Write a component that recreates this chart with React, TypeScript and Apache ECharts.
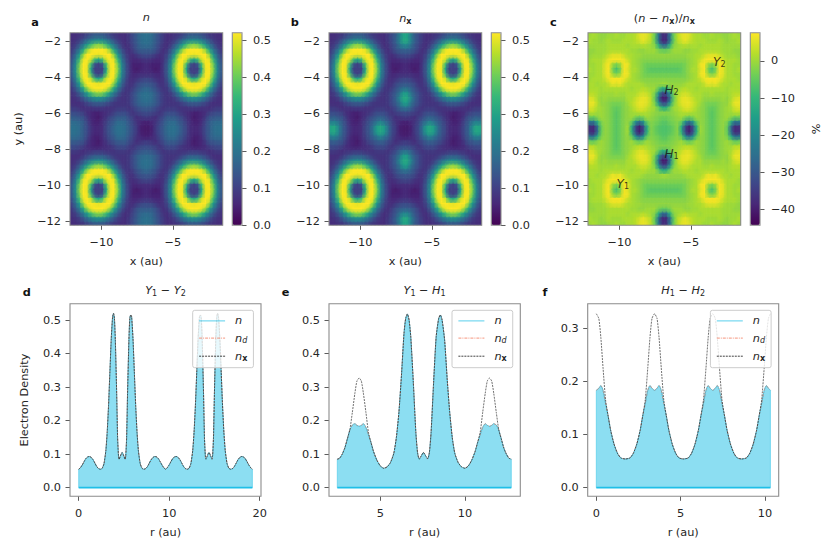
import * as echarts from "echarts";
import { useEffect, useRef } from "react";

const viridis = ["#440154", "#482878", "#3e4989", "#31688e", "#26828e", "#1f9e89", "#35b779", "#6ece58", "#b5de2b", "#fde725"];

// density maps, one quarter of the lattice, upper triangle (x 100). the other cells are mirror images
const nTri = [
  [7, 7, 8, 9, 11, 13, 15, 15, 15, 13, 11, 9, 8, 7, 7, 9, 12, 15, 18, 19],
  [8, 10, 14, 18, 22, 25, 26, 25, 22, 18, 14, 10, 8, 7, 9, 12, 15, 18, 19],
  [15, 21, 28, 36, 41, 43, 41, 36, 28, 21, 15, 10, 7, 8, 11, 14, 17, 18],
  [31, 43, 50, 52, 52, 52, 50, 43, 31, 21, 14, 9, 7, 10, 13, 15, 15],
  [52, 52, 51, 50, 51, 52, 52, 43, 28, 18, 11, 8, 7, 9, 11, 12],
  [48, 36, 30, 36, 48, 52, 50, 36, 22, 13, 8, 6, 6, 7, 8],
  [14, 10, 14, 36, 51, 52, 41, 25, 15, 9, 5, 5, 5, 6],
  [10, 10, 30, 50, 52, 43, 26, 15, 9, 5, 4, 5, 6],
  [14, 36, 51, 52, 41, 25, 15, 9, 6, 6, 7, 7],
  [48, 52, 50, 36, 22, 13, 8, 7, 8, 10, 11],
  [52, 43, 28, 18, 11, 8, 8, 11, 13, 14],
  [31, 21, 14, 9, 8, 10, 13, 15, 17],
  [15, 10, 8, 9, 12, 15, 18, 19],
  [8, 8, 9, 12, 15, 18, 19],
  [8, 9, 12, 15, 17, 18],
  [8, 10, 12, 14, 15],
  [8, 10, 11, 12],
  [7, 8, 9],
  [6, 5],
  [4],
];
const nxTri = [
  [7, 7, 8, 9, 11, 13, 15, 15, 15, 13, 11, 9, 8, 7, 7, 9, 12, 15, 22, 30],
  [8, 10, 14, 18, 22, 25, 26, 25, 22, 18, 14, 10, 8, 7, 9, 12, 16, 23, 31],
  [15, 21, 28, 36, 41, 43, 41, 36, 28, 21, 15, 10, 7, 8, 11, 14, 19, 24],
  [31, 43, 50, 52, 52, 52, 50, 43, 31, 21, 14, 9, 7, 10, 13, 15, 16],
  [52, 52, 51, 50, 51, 52, 52, 43, 28, 18, 11, 8, 7, 9, 11, 12],
  [48, 36, 30, 36, 48, 52, 50, 36, 22, 13, 8, 6, 6, 7, 8],
  [14, 10, 14, 36, 51, 52, 41, 25, 15, 9, 5, 5, 5, 6],
  [10, 10, 30, 50, 52, 43, 26, 15, 9, 5, 4, 5, 6],
  [14, 36, 51, 52, 41, 25, 15, 9, 6, 6, 7, 7],
  [48, 52, 50, 36, 22, 13, 8, 7, 8, 10, 11],
  [52, 43, 28, 18, 11, 8, 8, 11, 13, 14],
  [31, 21, 14, 9, 8, 10, 13, 16, 19],
  [15, 10, 8, 9, 12, 15, 20, 28],
  [8, 8, 9, 12, 16, 24, 31],
  [8, 9, 12, 15, 20, 28],
  [8, 10, 12, 16, 19],
  [8, 10, 11, 12],
  [7, 8, 9],
  [6, 5],
  [4],
];
// percent
const diffTri = [
  [0, 1, 0, -1, -1, 0, 0, 1, 0, 0, 1, 1, 2, 5, 6, 5, 2, -4, -24, -37],
  [0, 0, -1, 0, 1, 0, 0, 0, 1, 1, 1, 2, 4, 6, 4, 2, -5, -25, -38],
  [0, 0, 0, 1, 1, 1, 1, 1, 0, 1, 1, 1, 2, 1, 0, -2, -12, -26],
  [0, 0, 1, 1, 1, 1, 1, 1, 0, 0, -1, -1, 0, 0, 0, -3, -5],
  [1, 3, 5, 5, 5, 3, 1, 1, 0, 0, -1, -1, -1, -1, -1, -1],
  [6, 7, 7, 7, 6, 3, 1, 0, -1, -2, -2, -2, -2, -2, -2],
  [0, -3, 0, 7, 6, 1, 0, -1, -3, -4, -4, -4, -4, -4],
  [-8, -3, 7, 5, 1, 1, -1, -3, -5, -6, -6, -6, -6],
  [0, 7, 6, 1, 0, -1, -3, -4, -4, -4, -4, -4],
  [6, 3, 1, 0, -1, -2, -2, -2, -2, -2, -2],
  [1, 1, 1, 1, 0, -1, -1, -1, -1, 0],
  [0, 1, 1, 2, 1, 0, 0, -5, -12],
  [1, 3, 4, 3, 1, -3, -18, -32],
  [5, 6, 5, 2, -5, -26, -40],
  [6, 5, 2, -3, -18, -32],
  [3, 1, 0, -5, -12],
  [0, -1, -2, -2],
  [-2, -3, -4],
  [-4, -6],
  [-7],
];

const mapTicksX = [-10, -5];
const mapTicksY = [-12, -10, -8, -6, -4, -2];
const densityTicks = [0, 0.1, 0.2, 0.3, 0.4, 0.5];
const percentTicks = [-40, -30, -20, -10, 0];

const siteNames = ["Y1", "Y2", "H1", "H2"];
const siteX = [-10.16, -3.4, -6.8, -6.8];
const siteY = [-10.24, -3.46, -8.58, -5.03];

// line cuts
const rD = [0, 0.2, 0.4, 0.6, 0.8, 1, 1.2, 1.4, 1.6, 1.8, 2, 2.2, 2.4, 2.6, 2.8, 3, 3.15, 3.3, 3.45, 3.6, 3.75, 3.85, 3.95, 4.05, 4.2, 4.3, 4.4, 4.47, 4.6, 4.8, 5, 5.13, 5.2, 5.3, 5.4, 5.55, 5.65, 5.75, 5.85, 6, 6.15, 6.3, 6.45, 6.6, 6.8, 7, 7.2, 7.4, 7.6, 7.8, 8, 8.2, 8.4, 8.6, 8.8, 9, 9.2, 9.4, 9.6, 9.8, 10, 10.2, 10.4, 10.6, 10.8, 11, 11.2, 11.4, 11.6, 11.8, 12, 12.2, 12.4, 12.6, 12.75, 12.9, 13.05, 13.2, 13.35, 13.45, 13.55, 13.65, 13.8, 13.9, 14, 14.07, 14.2, 14.4, 14.6, 14.73, 14.8, 14.9, 15, 15.15, 15.25, 15.35, 15.45, 15.6, 15.75, 15.9, 16.05, 16.2, 16.4, 16.6, 16.8, 17, 17.2, 17.4, 17.6, 17.8, 18, 18.2, 18.4, 18.6, 18.8, 19, 19.2];
const nD = [0.055, 0.06, 0.068, 0.078, 0.087, 0.092, 0.093, 0.09, 0.083, 0.073, 0.063, 0.057, 0.055, 0.058, 0.072, 0.11, 0.165, 0.245, 0.345, 0.445, 0.51, 0.52, 0.505, 0.44, 0.28, 0.15, 0.095, 0.085, 0.094, 0.105, 0.094, 0.085, 0.095, 0.15, 0.28, 0.44, 0.505, 0.515, 0.51, 0.445, 0.345, 0.245, 0.165, 0.11, 0.072, 0.058, 0.055, 0.057, 0.063, 0.073, 0.083, 0.09, 0.093, 0.092, 0.087, 0.078, 0.068, 0.06, 0.055, 0.06, 0.068, 0.078, 0.087, 0.092, 0.093, 0.09, 0.083, 0.073, 0.063, 0.057, 0.055, 0.058, 0.072, 0.11, 0.165, 0.245, 0.345, 0.445, 0.51, 0.515, 0.505, 0.44, 0.28, 0.15, 0.095, 0.085, 0.094, 0.105, 0.094, 0.085, 0.095, 0.15, 0.28, 0.44, 0.505, 0.52, 0.51, 0.445, 0.345, 0.245, 0.165, 0.11, 0.072, 0.058, 0.055, 0.057, 0.063, 0.073, 0.083, 0.09, 0.093, 0.092, 0.087, 0.078, 0.068, 0.06, 0.055];

const rE = [2.46, 2.6, 2.75, 2.9, 3.05, 3.2, 3.35, 3.5, 3.62, 3.75, 3.88, 4, 4.15, 4.3, 4.45, 4.6, 4.8, 5, 5.2, 5.4, 5.6, 5.8, 5.95, 6.1, 6.25, 6.4, 6.5, 6.6, 6.7, 6.8, 6.95, 7.1, 7.2, 7.3, 7.42, 7.55, 7.68, 7.8, 7.9, 8, 8.15, 8.3, 8.45, 8.55, 8.65, 8.8, 8.95, 9.1, 9.25, 9.4, 9.6, 9.8, 10, 10.2, 10.4, 10.6, 10.75, 10.9, 11.05, 11.2, 11.32, 11.45, 11.58, 11.7, 11.85, 12, 12.15, 12.3, 12.45, 12.6, 12.74];
const nE = [0.085, 0.088, 0.1, 0.118, 0.145, 0.172, 0.187, 0.191, 0.186, 0.183, 0.186, 0.191, 0.18, 0.158, 0.135, 0.108, 0.082, 0.065, 0.058, 0.062, 0.075, 0.103, 0.15, 0.225, 0.335, 0.46, 0.505, 0.518, 0.5, 0.45, 0.315, 0.165, 0.105, 0.085, 0.095, 0.105, 0.095, 0.086, 0.105, 0.165, 0.315, 0.45, 0.505, 0.515, 0.5, 0.44, 0.325, 0.225, 0.15, 0.103, 0.075, 0.062, 0.058, 0.065, 0.082, 0.108, 0.135, 0.158, 0.18, 0.191, 0.186, 0.183, 0.186, 0.191, 0.187, 0.172, 0.145, 0.118, 0.1, 0.088, 0.085];
const nxE = [0.085, 0.088, 0.1, 0.118, 0.145, 0.172, 0.225, 0.282, 0.318, 0.327, 0.318, 0.282, 0.225, 0.165, 0.135, 0.108, 0.082, 0.065, 0.058, 0.062, 0.075, 0.103, 0.15, 0.225, 0.335, 0.46, 0.505, 0.518, 0.5, 0.45, 0.315, 0.165, 0.105, 0.085, 0.095, 0.105, 0.095, 0.086, 0.105, 0.165, 0.315, 0.45, 0.505, 0.515, 0.5, 0.44, 0.325, 0.225, 0.15, 0.103, 0.075, 0.062, 0.058, 0.065, 0.082, 0.108, 0.135, 0.165, 0.225, 0.282, 0.318, 0.327, 0.318, 0.282, 0.225, 0.172, 0.145, 0.118, 0.1, 0.088, 0.085];

const rF = [0, 0.15, 0.27, 0.4, 0.55, 0.7, 0.85, 1.05, 1.25, 1.45, 1.72, 2, 2.2, 2.4, 2.6, 2.75, 2.9, 3.05, 3.18, 3.3, 3.45, 3.6, 3.72, 3.85, 4, 4.15, 4.3, 4.5, 4.7, 4.9, 5.17, 5.45, 5.65, 5.85, 6.05, 6.2, 6.35, 6.5, 6.63, 6.75, 6.9, 7.05, 7.17, 7.3, 7.45, 7.6, 7.75, 7.95, 8.15, 8.35, 8.62, 8.9, 9.1, 9.3, 9.5, 9.65, 9.8, 9.95, 10.08, 10.2, 10.32];
const nF = [0.183, 0.187, 0.192, 0.183, 0.158, 0.135, 0.108, 0.082, 0.065, 0.056, 0.054, 0.056, 0.065, 0.082, 0.108, 0.135, 0.158, 0.183, 0.192, 0.187, 0.183, 0.187, 0.192, 0.183, 0.158, 0.135, 0.108, 0.082, 0.065, 0.056, 0.054, 0.056, 0.065, 0.082, 0.108, 0.135, 0.158, 0.183, 0.192, 0.187, 0.183, 0.187, 0.192, 0.183, 0.158, 0.135, 0.108, 0.082, 0.065, 0.056, 0.054, 0.056, 0.065, 0.082, 0.108, 0.135, 0.158, 0.183, 0.192, 0.187, 0.183];
const nxF = [0.327, 0.318, 0.282, 0.225, 0.165, 0.135, 0.108, 0.082, 0.065, 0.056, 0.054, 0.056, 0.065, 0.082, 0.108, 0.135, 0.165, 0.225, 0.282, 0.318, 0.327, 0.318, 0.282, 0.225, 0.165, 0.135, 0.108, 0.082, 0.065, 0.056, 0.054, 0.056, 0.065, 0.082, 0.108, 0.135, 0.165, 0.225, 0.282, 0.318, 0.327, 0.318, 0.282, 0.225, 0.165, 0.135, 0.108, 0.082, 0.065, 0.056, 0.054, 0.056, 0.065, 0.082, 0.108, 0.135, 0.165, 0.225, 0.282, 0.318, 0.327];

const FONT = "DejaVu Sans";
const INK = "#262626";
const SPINE = "#8c8c8c";
const FS = 11.3;
const MAP_MIN = -12.2;
const MAP_MAX = -1.5;
const CELLS = 40;
const CELL = (MAP_MAX - MAP_MIN) / CELLS;

const subBase = { fontFamily: FONT, fontSize: 8, color: INK, verticalAlign: "bottom", padding: [5, 0, 0, 0] };
const rich = {
  i: { fontFamily: FONT, fontStyle: "italic", fontSize: FS, color: INK },
  t: { fontFamily: FONT, fontSize: FS, color: INK },
  sub: { ...subBase, fontStyle: "italic" },
  num: subBase,
  bx: { ...subBase, fontWeight: "bold" },
};

const mapBoxes = [
  { left: 70, top: 32.7, width: 152.7, height: 192.6 },
  { left: 329, top: 32.7, width: 152.7, height: 192.6 },
  { left: 588, top: 32.7, width: 152.7, height: 192.6 },
];
const barBoxes = [
  { left: 232.3, top: 32.7, width: 9.7, height: 192.6 },
  { left: 491.3, top: 32.7, width: 9.7, height: 192.6 },
  { left: 750.3, top: 32.7, width: 9.7, height: 192.6 },
];
const lineBoxes = [
  { left: 70, top: 303.7, width: 191, height: 192.6 },
  { left: 329, top: 303.7, width: 191.3, height: 192.6 },
  { left: 587.7, top: 303.7, width: 191, height: 192.6 },
];

const minusText = (v: number) => String(v).replace("-", "\u2212");
const oneDecimal = (v: number) => v.toFixed(1);

// unfold the triangle into the whole map
function unfold(tri: number[][], scale: number) {
  const out: number[][] = [];
  for (let row = 0; row < CELLS; row++) {
    for (let col = 0; col < CELLS; col++) {
      const a = row < CELLS / 2 ? row : CELLS - 1 - row;
      const b = col < CELLS / 2 ? col : CELLS - 1 - col;
      const lo = Math.min(a, b);
      const hi = Math.max(a, b);
      out.push([MAP_MIN + (col + 0.5) * CELL, MAP_MIN + (row + 0.5) * CELL, tri[lo][hi - lo] * scale]);
    }
  }
  return out;
}

const cellShape = (api: any, half: number, pad: number) => {
  const x = api.value(0);
  const y = api.value(1);
  const p0 = api.coord([x - half, y + half]);
  const p1 = api.coord([x + half, y - half]);
  return { x: p0[0], y: p0[1], width: p1[0] - p0[0] + pad, height: p1[1] - p0[1] + pad };
};

const renderCell = (_: any, api: any) => ({
  type: "rect",
  shape: cellShape(api, CELL / 2, 0.5),
  style: { fill: api.visual("color") },
});

// wider see-through copy of each cell, softens the mosaic
const renderSoftCell = (_: any, api: any) => ({
  type: "rect",
  shape: cellShape(api, CELL * 0.85, 0),
  style: { fill: api.visual("color"), opacity: 0.38 },
});

const zip = (xs: number[], ys: number[]) => xs.map((x, k) => [x, ys[k]]);

function axisBase(ticks: number[], min: number, max: number, fmt: (v: number) => string, margin: number) {
  return {
    type: "value",
    min,
    max,
    splitLine: { show: false },
    axisLine: { show: false, onZero: false },
    axisTick: { show: true, length: 4.5, customValues: ticks, lineStyle: { color: "#4a4a4a", width: 0.9 } },
    axisLabel: { show: true, customValues: ticks, formatter: fmt, color: INK, fontFamily: FONT, fontSize: FS, margin },
    nameLocation: "middle",
    nameTextStyle: { color: INK, fontFamily: FONT, fontSize: FS },
  };
}

const panelLetters = [
  { text: "a", x: 35, y: 23.5 },
  { text: "b", x: 294.7, y: 23.5 },
  { text: "c", x: 553.3, y: 23.5 },
  { text: "d", x: 26.7, y: 294 },
  { text: "e", x: 285.7, y: 294 },
  { text: "f", x: 545, y: 294 },
];
const panelTitles = [
  { text: "{i|n}", x: 146.3, y: 12 },
  { text: "{i|n}{bx|x}", x: 405.3, y: 12 },
  { text: "{t|(}{i|n}{t| \u2212 }{i|n}{bx|x}{t|)/}{i|n}{bx|x}", x: 664.3, y: 12 },
  { text: "{i|Y}{num|1}{t| \u2212 }{i|Y}{num|2}", x: 165.5, y: 284 },
  { text: "{i|Y}{num|1}{t| \u2212 }{i|H}{num|1}", x: 424.6, y: 284 },
  { text: "{i|H}{num|1}{t| \u2212 }{i|H}{num|2}", x: 683.2, y: 284 },
];

function buildOption() {
  const grid = [...mapBoxes, ...lineBoxes, ...barBoxes];
  const xAxis: any[] = [];
  const yAxis: any[] = [];
  const series: any[] = [];

  mapBoxes.forEach((_, k) => {
    xAxis.push({ ...axisBase(mapTicksX, MAP_MIN, MAP_MAX, minusText, 12), gridIndex: k, name: "x (au)", nameGap: 31 });
    yAxis.push({
      ...axisBase(mapTicksY, MAP_MIN, MAP_MAX, minusText, 9),
      gridIndex: k,
      name: k === 0 ? "y (au)" : "",
      nameGap: 46,
    });
  });
  const maps = [unfold(nTri, 0.01), unfold(nxTri, 0.01), unfold(diffTri, 1)];
  maps.forEach((data, k) => {
    series.push({ type: "custom", xAxisIndex: k, yAxisIndex: k, data, renderItem: renderCell, clip: true, silent: true, encode: { x: 0, y: 1 } });
  });
  maps.forEach((data, k) => {
    series.push({ type: "custom", xAxisIndex: k, yAxisIndex: k, data, renderItem: renderSoftCell, clip: true, silent: true, encode: { x: 0, y: 1 } });
  });

  const cuts = [
    { r: rD, n: nD, nx: nD, xTicks: [0, 10, 20], xMin: -0.96, xMax: 20.15, yTicks: densityTicks, yMin: -0.0256, yMax: 0.5486 },
    { r: rE, n: nE, nx: nxE, xTicks: [5, 10], xMin: 1.97, xMax: 13.27, yTicks: densityTicks, yMin: -0.0256, yMax: 0.5486 },
    { r: rF, n: nF, nx: nxF, xTicks: [0, 5, 10], xMin: -0.51, xMax: 10.81, yTicks: [0, 0.1, 0.2, 0.3], yMin: -0.0162, yMax: 0.3459 },
  ];
  cuts.forEach((c, k) => {
    const g = k + 3;
    xAxis.push({ ...axisBase(c.xTicks, c.xMin, c.xMax, minusText, 12), gridIndex: g, name: "r (au)", nameGap: 31 });
    yAxis.push({
      ...axisBase(c.yTicks, c.yMin, c.yMax, oneDecimal, 9),
      gridIndex: g,
      name: k === 0 ? "Electron Density" : "",
      nameGap: 40,
    });
    const common = { type: "line", xAxisIndex: g, yAxisIndex: g, symbol: "none", silent: true, smooth: 0.2 };
    const first = c.r[0];
    const last = c.r[c.r.length - 1];
    series.push({ ...common, data: zip(c.r, c.n), lineStyle: { width: 0 }, areaStyle: { color: "#2ec3e8", opacity: 0.55, origin: 0 } });
    series.push({ ...common, smooth: false, data: [[first, c.n[0]], [first, 0]], lineStyle: { color: "#2ec3e8", width: 1, opacity: 0.5 } });
    series.push({ ...common, smooth: false, data: [[last, 0], [last, c.n[c.n.length - 1]]], lineStyle: { color: "#2ec3e8", width: 1, opacity: 0.5 } });
    series.push({ ...common, smooth: false, data: [[first, 0], [last, 0]], lineStyle: { color: "#1fbfe8", width: 1.8 } });
    series.push({ ...common, name: "n", data: zip(c.r, c.n), lineStyle: { color: "#2ec3e8", width: 0.9 } });
    series.push({ ...common, name: "n_d", data: zip(c.r, c.n), lineStyle: { color: "#f4795b", width: 0.6, type: [3, 1, 1, 1] } });
    series.push({ ...common, name: "n_x", data: zip(c.r, c.nx), lineStyle: { color: "#111111", width: 0.6, type: [2, 1] } });
  });

  const bars = [
    { ticks: densityTicks, min: 0, max: 0.52, fmt: oneDecimal },
    { ticks: densityTicks, min: 0, max: 0.52, fmt: oneDecimal },
    { ticks: percentTicks, min: -44.3, max: 7.6, fmt: minusText },
  ];
  bars.forEach((b, k) => {
    const g = k + 6;
    xAxis.push({ type: "value", gridIndex: g, show: false, min: 0, max: 1 });
    yAxis.push({
      ...axisBase(b.ticks, b.min, b.max, b.fmt, 11),
      gridIndex: g,
      position: "right",
      name: k === 2 ? "%" : "",
      nameGap: 51,
      nameRotate: 90,
    });
  });

  series.push({
    type: "scatter",
    xAxisIndex: 2,
    yAxisIndex: 2,
    silent: true,
    symbolSize: 1,
    itemStyle: { color: "transparent" },
    data: siteNames.map((name, k) => ({ name, value: [siteX[k], siteY[k]] })),
    label: {
      show: true,
      position: [0, -12],
      align: "left",
      formatter: (p: any) => `{i|${p.name[0]}}{num|${p.name[1]}}`,
      rich: { i: { ...rich.i, fontSize: 12, color: "#111" }, num: { ...rich.num, color: "#111" } },
    },
    z: 6,
  });

  const visualMap = bars.map((b, k) => ({
    type: "continuous",
    seriesIndex: [k, k + 3],
    dimension: 2,
    min: b.min,
    max: b.max,
    calculable: false,
    hoverLink: false,
    padding: 0,
    left: barBoxes[k].left,
    top: barBoxes[k].top,
    itemWidth: barBoxes[k].width,
    itemHeight: barBoxes[k].height,
    inRange: { color: viridis },
  }));

  const legend = lineBoxes.map((box) => ({
    orient: "vertical",
    left: box.left + box.width - 68.3,
    top: 310.3,
    selectedMode: false,
    data: ["n", "n_d", "n_x"],
    itemWidth: 26,
    itemHeight: 14,
    itemGap: 6,
    padding: [5, 6, 5, 6],
    backgroundColor: "rgba(255,255,255,0.8)",
    borderColor: "#cccccc",
    borderWidth: 1,
    borderRadius: 2,
    itemStyle: { color: "transparent", borderColor: "transparent", borderWidth: 0 },
    lineStyle: { width: 0.8 },
    formatter: (name: string) => (name === "n" ? "{i|n}" : name === "n_d" ? "{i|n}{sub|d}" : "{i|n}{bx|x}"),
    textStyle: { rich, width: 20, padding: [0, 0, 0, 5] },
    z: 8,
  }));

  const title = [
    ...panelLetters.map((p) => ({
      text: p.text,
      left: p.x,
      top: p.y - 7,
      textAlign: "center",
      padding: 0,
      textStyle: { fontFamily: FONT, fontSize: FS, fontWeight: "bold", color: "#111" },
    })),
    ...panelTitles.map((p) => ({
      text: p.text,
      left: p.x,
      top: p.y,
      textAlign: "center",
      padding: 0,
      textStyle: { rich, fontSize: FS, fontWeight: "normal" },
    })),
  ];

  // spines on top of the marks
  const graphic = [...mapBoxes, ...lineBoxes, ...barBoxes].map((b) => ({
    type: "rect",
    silent: true,
    z: 7,
    shape: { x: b.left, y: b.top, width: b.width, height: b.height },
    style: { fill: "none", stroke: SPINE, lineWidth: 1.1 },
  }));

  return {
    animation: false,
    backgroundColor: "#ffffff",
    textStyle: { fontFamily: FONT },
    title,
    grid,
    xAxis,
    yAxis,
    series,
    visualMap,
    legend,
    graphic,
  };
}

export default function App() {
  const ref = useRef<HTMLDivElement | null>(null);

  useEffect(() => {
    const chart = echarts.init(ref.current, undefined, { renderer: "svg" });
    chart.setOption(buildOption());
    return () => chart.dispose();
  }, []);

  return <div ref={ref} style={{ position: "fixed", left: 0, top: 0, width: 830, height: 552 }} />;
}
